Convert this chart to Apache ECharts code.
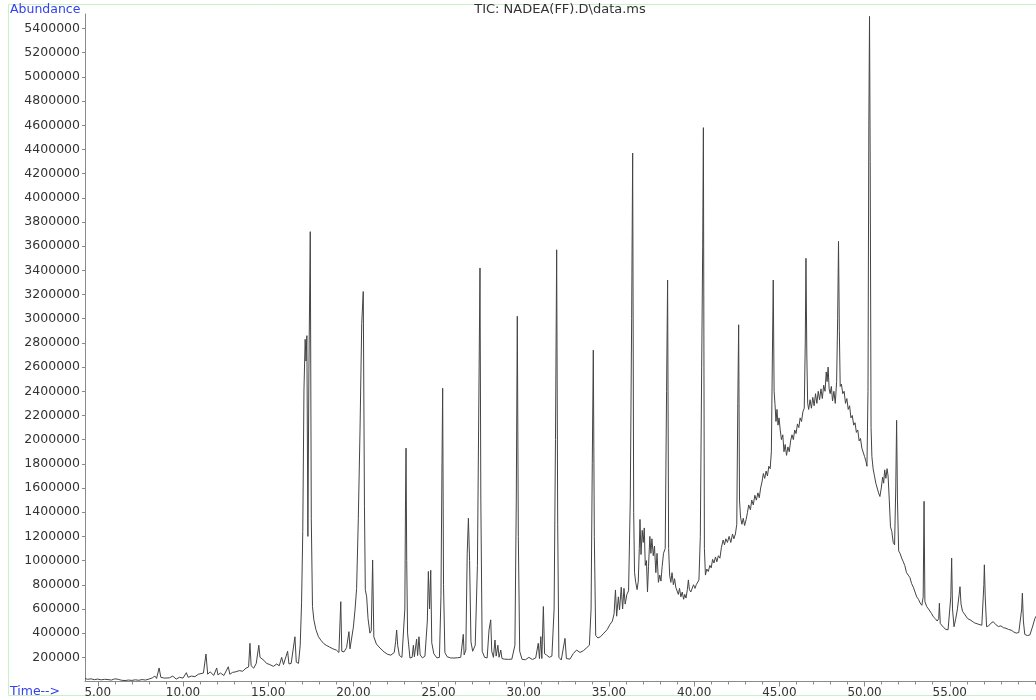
<!DOCTYPE html>
<html>
<head>
<meta charset="utf-8">
<title>TIC: NADEA(FF).D\data.ms</title>
<script src="https://cdn.jsdelivr.net/npm/echarts@6/dist/echarts.min.js"></script>
<style>
  html, body { margin: 0; padding: 0; background: #ffffff; }
  #chart { width: 1036px; height: 700px; }
</style>
</head>
<body>
<div id="chart"></div>
<script>
// Total ion chromatogram, [retention time (min), abundance] pairs, split by time window.
const earlyBaseline = [
  [4.25, 25000], [4.4, 18000], [4.6, 22000], [4.8, 15000], [5.0, 20000], [5.2, 14000],
  [5.4, 18000], [5.5, 32000], [5.6, 16000], [5.8, 12000], [6.0, 22000], [6.1, 36000],
  [6.2, 18000], [6.4, 10000], [6.6, 8000], [6.8, 12000], [7.0, 9000], [7.2, 14000],
  [7.4, 10000], [7.6, 16000], [7.8, 12000], [8.0, 20000], [8.2, 30000], [8.35, 45000],
  [8.45, 25000], [8.6, 112000], [8.7, 35000], [8.8, 50000], [8.9, 28000], [9.0, 40000],
  [9.2, 30000], [9.4, 45000], [9.6, 20000], [9.8, 35000], [10.0, 28000], [10.2, 73000],
  [10.3, 35000], [10.5, 45000], [10.7, 40000], [10.9, 60000], [11.0, 45000], [11.2, 70000],
  [11.35, 227000], [11.45, 60000], [11.6, 80000], [11.8, 50000], [11.98, 112000], [12.05, 55000],
  [12.2, 70000], [12.4, 50000], [12.66, 122000], [12.75, 60000], [12.9, 75000], [13.1, 80000],
  [13.3, 90000], [13.5, 85000], [13.7, 110000], [13.85, 120000], [13.93, 316000], [14.0, 130000],
  [14.15, 110000], [14.3, 150000], [14.45, 300000], [14.52, 200000], [14.6, 190000], [14.75, 175000],
  [14.9, 150000], [15.1, 140000], [15.3, 125000], [15.5, 145000], [15.65, 130000], [15.79, 200000],
  [15.9, 140000], [16.0, 155000], [16.14, 250000], [16.22, 145000], [16.35, 150000], [16.45, 140000],
  [16.57, 370000], [16.65, 160000], [16.78, 150000]
];

const firstCluster = [
  [16.88, 300000], [16.96, 650000], [17.03, 1240000], [17.1, 2410000], [17.17, 2830000],
  [17.22, 2650000], [17.27, 2860000], [17.33, 1200000], [17.39, 2560000], [17.47, 3720000],
  [17.53, 1350000], [17.6, 620000], [17.68, 510000], [17.8, 430000], [17.95, 370000],
  [18.1, 340000], [18.25, 315000], [18.4, 300000], [18.6, 285000], [18.8, 270000],
  [19.0, 260000], [19.15, 240000], [19.26, 660000], [19.32, 250000], [19.45, 245000],
  [19.6, 280000], [19.74, 412000], [19.8, 270000], [19.9, 265000], [20.0, 450000],
  [20.1, 600000], [20.19, 770000], [20.29, 1350000], [20.39, 2080000], [20.49, 2960000],
  [20.58, 3225000], [20.65, 1450000], [20.7, 760000], [20.78, 700000], [20.86, 520000],
  [20.97, 400000], [21.05, 420000], [21.13, 1005000], [21.2, 370000], [21.35, 310000],
  [21.56, 277000], [21.8, 245000], [22.0, 225000], [22.2, 218000], [22.4, 240000],
  [22.48, 330000], [22.54, 426000], [22.6, 300000], [22.7, 215000], [22.85, 200000],
  [22.95, 195000]
];

const middleRun = [
  [23.02, 600000], [23.06, 1500000], [23.09, 1930000], [23.13, 1000000], [23.18, 400000],
  [23.32, 194000], [23.45, 200000], [23.52, 300000], [23.58, 205000], [23.71, 350000],
  [23.77, 215000], [23.85, 370000], [23.92, 220000], [24.05, 195000], [24.2, 210000],
  [24.34, 500000], [24.4, 910000], [24.47, 600000], [24.54, 920000], [24.6, 320000],
  [24.72, 230000], [24.9, 195000], [25.05, 200000], [25.14, 700000], [25.2, 1800000],
  [25.24, 2425000], [25.29, 800000], [25.37, 240000], [25.5, 205000], [25.7, 195000],
  [25.9, 194000], [26.1, 196000], [26.3, 200000], [26.45, 390000], [26.5, 220000],
  [26.6, 260000], [26.68, 1060000], [26.75, 1350000], [26.82, 1000000], [26.9, 330000],
  [27.0, 250000], [27.15, 300000], [27.28, 960000], [27.38, 2600000], [27.43, 3420000],
  [27.48, 1500000], [27.56, 250000], [27.7, 200000], [27.85, 195000], [27.96, 426000],
  [28.06, 510000], [28.12, 250000], [28.22, 200000], [28.31, 343000], [28.38, 210000],
  [28.48, 300000], [28.55, 200000], [28.65, 260000], [28.72, 190000], [28.85, 185000],
  [29.1, 183000], [29.3, 185000], [29.48, 300000], [29.56, 1500000], [29.62, 3020000],
  [29.68, 1200000], [29.76, 250000], [29.9, 183000], [30.1, 180000], [30.3, 200000],
  [30.5, 182000], [30.7, 195000], [30.85, 316000], [30.92, 190000], [31.0, 371000],
  [31.06, 190000], [31.15, 620000], [31.22, 230000], [31.34, 219000], [31.5, 200000],
  [31.65, 210000], [31.78, 600000], [31.86, 2000000], [31.93, 3570000], [31.99, 1300000],
  [32.06, 200000], [32.2, 178000], [32.3, 185000], [32.42, 357000], [32.5, 190000],
  [32.71, 185000], [32.9, 230000], [33.1, 260000]
];

const risingHump = [
  [33.3, 240000], [33.5, 255000], [33.7, 280000], [33.85, 300000], [33.95, 600000],
  [34.02, 1800000], [34.08, 2740000], [34.14, 1200000], [34.22, 380000], [34.35, 360000],
  [34.5, 370000], [34.7, 400000], [34.9, 430000], [35.05, 470000], [35.2, 500000],
  [35.3, 560000], [35.38, 757000], [35.45, 540000], [35.55, 700000], [35.62, 592000],
  [35.72, 780000], [35.8, 600000], [35.88, 770000], [35.95, 640000], [36.05, 720000],
  [36.15, 750000], [36.25, 1500000], [36.33, 3000000], [36.39, 4370000], [36.45, 1400000],
  [36.5, 900000], [36.57, 820000], [36.65, 760000], [36.72, 830000], [36.78, 1100000],
  [36.82, 1340000], [36.88, 1050000], [36.95, 1250000], [37.01, 1150000], [37.07, 1270000],
  [37.13, 960000], [37.2, 1000000], [37.26, 740000], [37.32, 950000], [37.4, 1200000],
  [37.46, 1060000], [37.52, 1180000], [37.6, 1040000], [37.67, 1120000], [37.75, 900000],
  [37.82, 1060000], [37.9, 820000], [37.98, 880000], [38.05, 830000], [38.12, 950000],
  [38.2, 1060000], [38.3, 1100000], [38.38, 2400000], [38.44, 3320000], [38.5, 1100000],
  [38.56, 880000], [38.63, 820000], [38.7, 900000], [38.78, 800000], [38.85, 850000],
  [38.92, 780000], [39.0, 790000], [39.07, 720000], [39.14, 770000], [39.22, 700000],
  [39.3, 740000], [39.38, 680000], [39.45, 720000], [39.52, 690000], [39.6, 760000],
  [39.66, 840000], [39.72, 760000], [39.8, 740000], [39.88, 750000], [39.96, 800000],
  [40.05, 770000], [40.12, 800000], [40.2, 790000], [40.28, 840000], [40.36, 1200000],
  [40.44, 2600000], [40.5, 3600000], [40.54, 4580000], [40.6, 1100000], [40.66, 880000],
  [40.74, 930000], [40.83, 910000], [40.92, 960000], [41.0, 940000], [41.08, 1010000],
  [41.16, 980000], [41.25, 1030000], [41.33, 990000], [41.42, 1040000], [41.51, 1020000],
  [41.6, 1110000], [41.7, 1170000], [41.78, 1130000], [41.86, 1180000], [41.95, 1150000],
  [42.05, 1200000], [42.15, 1150000], [42.25, 1220000], [42.33, 1180000], [42.42, 1220000],
  [42.5, 1300000], [42.56, 2300000], [42.61, 2950000], [42.66, 1500000], [42.72, 1360000],
  [42.8, 1300000], [42.88, 1350000], [42.96, 1290000], [43.05, 1340000], [43.13, 1400000],
  [43.2, 1460000], [43.3, 1420000], [43.38, 1500000], [43.47, 1460000], [43.56, 1540000],
  [43.65, 1500000], [43.74, 1560000], [43.82, 1520000], [43.9, 1600000], [43.98, 1650000],
  [44.06, 1720000], [44.14, 1680000], [44.22, 1740000], [44.3, 1700000], [44.38, 1780000],
  [44.46, 1760000], [44.53, 1900000], [44.59, 2700000], [44.64, 3320000], [44.69, 2400000]
];

const humpTop = [
  [44.74, 2300000], [44.8, 2150000], [44.86, 2250000], [44.92, 2120000], [44.98, 2180000],
  [45.05, 2080000], [45.12, 2000000], [45.2, 2040000], [45.27, 1900000], [45.34, 1960000],
  [45.42, 1870000], [45.5, 1940000], [45.58, 1900000], [45.66, 1990000], [45.74, 2040000],
  [45.82, 2000000], [45.9, 2080000], [45.98, 2050000], [46.06, 2130000], [46.14, 2100000],
  [46.22, 2180000], [46.3, 2150000], [46.38, 2230000], [46.46, 2260000], [46.52, 2800000],
  [46.56, 3500000], [46.61, 2700000], [46.66, 2300000], [46.72, 2250000], [46.8, 2330000],
  [46.88, 2260000], [46.96, 2350000], [47.04, 2280000], [47.12, 2380000], [47.2, 2300000],
  [47.28, 2400000], [47.36, 2330000], [47.44, 2420000], [47.52, 2340000], [47.6, 2450000],
  [47.68, 2400000], [47.75, 2560000], [47.8, 2480000], [47.86, 2600000], [47.92, 2420000],
  [47.98, 2380000], [48.05, 2440000], [48.12, 2320000], [48.2, 2400000], [48.28, 2300000],
  [48.36, 2480000], [48.42, 3000000], [48.47, 3640000], [48.52, 2900000], [48.57, 2440000],
  [48.64, 2460000], [48.72, 2380000], [48.8, 2400000], [48.88, 2300000], [48.96, 2340000],
  [49.04, 2250000], [49.12, 2280000], [49.2, 2180000], [49.28, 2200000], [49.36, 2120000],
  [49.44, 2140000], [49.52, 2060000], [49.6, 2080000], [49.68, 1990000], [49.76, 2010000],
  [49.84, 1930000], [49.92, 1940000], [50.0, 1860000], [50.08, 1820000], [50.14, 1780000],
  [50.2, 2400000], [50.25, 4600000], [50.29, 5500000], [50.33, 4300000], [50.38, 2100000],
  [50.43, 1860000]
];

const lateTail = [
  [50.5, 1760000], [50.58, 1700000], [50.66, 1640000], [50.74, 1600000], [50.82, 1560000],
  [50.9, 1530000], [50.98, 1600000], [51.06, 1690000], [51.12, 1640000], [51.18, 1750000],
  [51.25, 1680000], [51.32, 1760000], [51.38, 1700000], [51.45, 1500000], [51.52, 1280000],
  [51.6, 1240000], [51.68, 1150000], [51.76, 1130000], [51.83, 1600000], [51.88, 2160000],
  [51.93, 1500000], [52.0, 1080000], [52.08, 1060000], [52.18, 1020000], [52.27, 990000],
  [52.36, 960000], [52.46, 900000], [52.56, 880000], [52.66, 860000], [52.76, 810000],
  [52.86, 780000], [52.96, 740000], [53.06, 700000], [53.16, 680000], [53.26, 650000],
  [53.36, 630000], [53.44, 700000], [53.49, 1490000], [53.54, 660000], [53.65, 619000],
  [53.75, 600000], [53.84, 592000], [53.94, 560000], [54.03, 536000], [54.15, 520000],
  [54.26, 500000], [54.35, 520000], [54.39, 647000], [54.44, 480000], [54.53, 467000],
  [54.65, 445000], [54.78, 430000], [54.9, 428000], [55.0, 440000], [55.06, 700000],
  [55.11, 1020000], [55.16, 600000], [55.25, 453000], [55.35, 520000], [55.45, 600000],
  [55.55, 720000], [55.6, 784000], [55.66, 640000], [55.75, 580000], [55.85, 560000],
  [55.95, 545000], [56.05, 520000], [56.15, 530000], [56.25, 505000], [56.35, 500000],
  [56.45, 485000], [56.55, 495000], [56.65, 475000], [56.75, 470000], [56.88, 465000],
  [56.95, 480000], [57.0, 800000], [57.03, 965000], [57.08, 700000], [57.16, 453000],
  [57.28, 460000], [57.4, 480000], [57.55, 495000], [57.7, 470000], [57.85, 455000],
  [58.0, 460000], [58.15, 445000], [58.3, 440000], [58.45, 430000], [58.6, 425000],
  [58.75, 410000], [58.9, 400000], [59.05, 405000], [59.15, 420000], [59.22, 600000],
  [59.26, 730000], [59.32, 500000], [59.4, 390000], [59.55, 380000], [59.7, 385000],
  [59.85, 450000], [60.0, 523000], [60.06, 540000]
];

// Axis ticks and labels
const timeLabels = [5, 10, 15, 20, 25, 30, 35, 40, 45, 50, 55];
const timeMinorTicks = [5, 6, 7, 8, 9, 10, 11, 12, 13, 14, 15, 16, 17, 18, 19, 20, 21, 22, 23, 24,
  25, 26, 27, 28, 29, 30, 31, 32, 33, 34, 35, 36, 37, 38, 39, 40, 41, 42, 43, 44, 45, 46, 47,
  48, 49, 50, 51, 52, 53, 54, 55, 56, 57, 58, 59, 60];
const abundanceLabels = [200000, 400000, 600000, 800000, 1000000, 1200000, 1400000, 1600000,
  1800000, 2000000, 2200000, 2400000, 2600000, 2800000, 3000000, 3200000, 3400000, 3600000,
  3800000, 4000000, 4200000, 4400000, 4600000, 4800000, 5000000, 5200000, 5400000];

const traceData = [].concat(earlyBaseline, firstCluster, middleRun, risingHump, humpTop, lateTail);

const FONT = 'DejaVu Sans';
const axisGrey = '#8a8a8a';
const labelInk = '#333333';
const blueInk = '#3340ee';

const chart = echarts.init(document.getElementById('chart'), null, { renderer: 'canvas' });

chart.setOption({
  backgroundColor: '#ffffff',
  animation: false,
  grid: { left: 85, right: 0, top: 14, bottom: 18.5, containLabel: false },
  xAxis: [
    {
      type: 'value', min: 4.25, max: 60.06,
      axisLine: { show: true, lineStyle: { color: axisGrey, width: 1 } },
      axisTick: { show: true, customValues: timeLabels, length: 5, inside: false,
                  lineStyle: { color: axisGrey } },
      axisLabel: { show: true, customValues: timeLabels, margin: 5,
                   formatter: v => v.toFixed(2),
                   fontFamily: FONT, fontSize: 12, color: labelInk },
      splitLine: { show: false }
    },
    {
      type: 'value', min: 4.25, max: 60.06, position: 'bottom',
      axisLine: { show: false },
      axisTick: { show: true, customValues: timeMinorTicks, length: 3,
                  lineStyle: { color: axisGrey } },
      axisLabel: { show: false },
      splitLine: { show: false }
    }
  ],
  yAxis: [
    {
      type: 'value', min: 0, max: 5520000,
      axisLine: { show: true, lineStyle: { color: axisGrey, width: 1 } },
      axisTick: { show: true, customValues: abundanceLabels, length: 3,
                  lineStyle: { color: axisGrey } },
      axisLabel: { show: true, customValues: abundanceLabels, margin: 5,
                   formatter: v => String(v),
                   fontFamily: FONT, fontSize: 12.5, color: labelInk },
      splitLine: { show: false }
    }
  ],
  series: [
    {
      type: 'line',
      xAxisIndex: 0,
      yAxisIndex: 0,
      data: traceData,
      showSymbol: false,
      symbol: 'none',
      sampling: 'none',
      lineStyle: { color: '#444444', width: 1 },
      silent: true
    }
  ],
  graphic: [
    {
      type: 'rect', silent: true, z: -1,
      shape: { x: 8.5, y: 4.5, width: 1040, height: 691 },
      style: { fill: null, stroke: '#c6f2c6', lineWidth: 1 }
    },
    {
      type: 'text', left: 10, top: 3, silent: true,
      style: { text: 'Abundance', fill: blueInk, font: '12.5px "DejaVu Sans"' }
    },
    {
      type: 'text', left: 10, top: 685, silent: true,
      style: { text: 'Time-->', fill: blueInk, font: '12.5px "DejaVu Sans"' }
    },
    {
      type: 'text', x: 560, y: 3, silent: true,
      style: { text: 'TIC: NADEA(FF).D\\data.ms', fill: labelInk,
               font: '13px "DejaVu Sans"', align: 'center', verticalAlign: 'top' }
    }
  ]
});
</script>
</body>
</html>
